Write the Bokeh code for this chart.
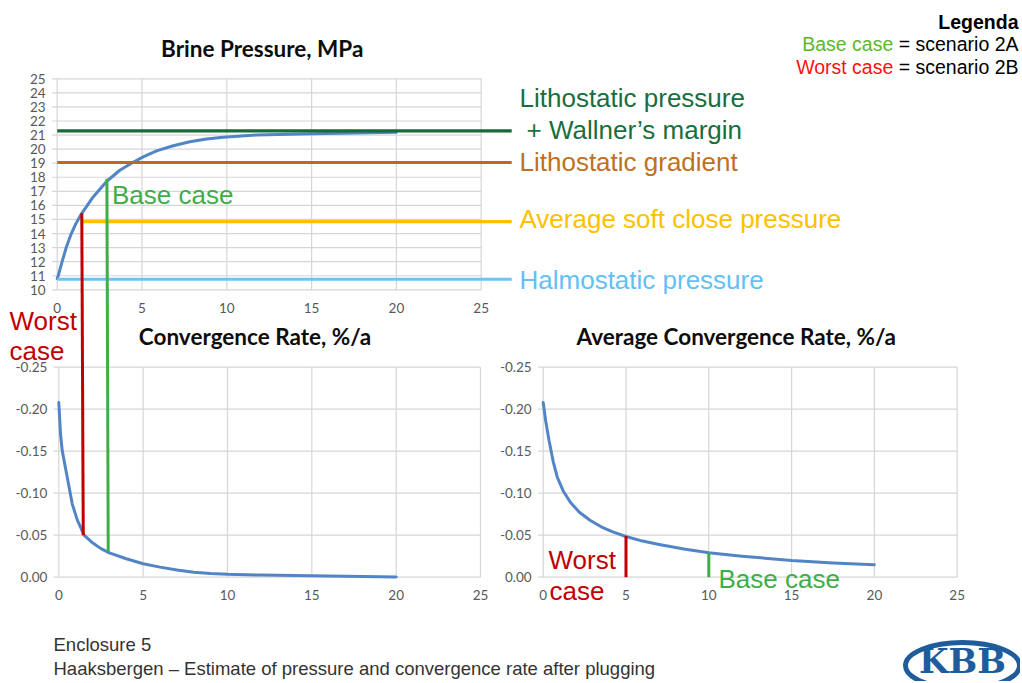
from bokeh.plotting import figure
from bokeh.models import Range1d
from bokeh.core.properties import value
from bokeh.embed import file_html
from bokeh.resources import INLINE

# ---------------- data ----------------
pressure_years = [0, 0.06, 0.29, 0.53, 0.8, 1.1, 1.43, 2.12, 2.91, 3.69, 4.48, 5.07, 5.86,
                  6.84, 7.82, 8.8, 9.79, 11.75, 15, 17.5, 20]
pressure_mpa = [10.8, 11.0, 12.0, 13.0, 13.9, 14.7, 15.4, 16.6, 17.7, 18.5, 19.07, 19.45,
                19.88, 20.24, 20.52, 20.72, 20.85, 21.0, 21.09, 21.15, 21.2]

rate_years = [0, 0.1, 0.2, 0.5, 0.8, 1.1, 1.5, 2, 2.5, 3, 4, 5, 6, 7, 8, 9, 10, 12, 14, 16, 18, 20]
rate_pct = [-0.208, -0.171, -0.151, -0.119, -0.087, -0.068, -0.05, -0.041, -0.034, -0.029,
            -0.022, -0.016, -0.012, -0.0085, -0.006, -0.0045, -0.0035, -0.0025, -0.002,
            -0.0015, -0.0008, -0.0003]

avg_years = [0, 0.15, 0.35, 0.6, 0.85, 1.2, 1.65, 2.2, 2.85, 3.5, 4.2, 5, 6, 7, 8.5, 10, 12,
             15, 17.5, 20]
avg_rate_pct = [-0.208, -0.186, -0.163, -0.138, -0.119, -0.103, -0.089, -0.077, -0.0675,
                -0.060, -0.054, -0.0485, -0.043, -0.039, -0.0335, -0.029, -0.025, -0.020,
                -0.017, -0.0148]

ref_levels = [21.3, 19.05, 14.85, 10.75]
ref_label_lines = [["Lithostatic pressure", "+ Wallner\u2019s margin"],
                   ["Lithostatic gradient"],
                   ["Average soft close pressure"],
                   ["Halmostatic pressure"]]
ref_line_end = 26.8

worst_year, base_year = 1.45, 2.93
worst_pressure, base_pressure = 15.45, 17.9
worst_rate, base_rate = -0.05, -0.03
worst_avg_year, base_avg_year = 5, 10
worst_avg_rate, base_avg_rate = -0.049, -0.029

pressure_ticks = list(range(10, 26))
year_ticks = [0, 5, 10, 15, 20, 25]
rate_ticks = [0.0, -0.05, -0.10, -0.15, -0.20, -0.25]
rate_tick_labels = ["0.00", "-0.05", "-0.10", "-0.15", "-0.20", "-0.25"]

# ---------------- layout (screen pixels of the 1022x683 page) ----------------
W, H = 1020, 681
PX0, PY0 = 0, 0
# (data0, data1, pixel0, pixel1) for each panel
BOX = {
    "top": ((0, 25, 56.7, 480.7), (10, 25, 289.3, 78.3)),
    "mid": ((0, 25, 58.3, 480.0), (0, -0.25, 576.7, 366.7)),
    "avg": ((0, 25, 542.7, 956.7), (0, -0.25, 576.7, 366.7)),
}


def inv(m):
    d0, d1, p0, p1 = m
    return lambda px: d0 + (px - p0) * (d1 - d0) / (p1 - p0)


def fwd(m):
    d0, d1, p0, p1 = m
    return lambda d: p0 + (d - d0) * (p1 - p0) / (d1 - d0)


p = figure(width=W, height=H, x_range=Range1d(PX0, PX0 + W), y_range=Range1d(PY0 + H, PY0),
           x_axis_type=None, y_axis_type=None, toolbar_location=None, output_backend="svg",
           min_border=0, min_border_left=0, min_border_right=0, min_border_top=0,
           min_border_bottom=0, title=None)
p.outline_line_color = None
p.background_fill_color = "white"
p.border_fill_color = "white"

for name, (xm, ym) in BOX.items():
    fx, fy = inv(xm), inv(ym)
    p.extra_x_ranges[name] = Range1d(fx(PX0), fx(PX0 + W))
    p.extra_y_ranges[name] = Range1d(fy(PY0 + H), fy(PY0))

GRID = "#d6d6d6"
TICK = "#595959"
CURVE = "#5285c6"
RED = "#c00000"
GREEN = "#3fae49"
SANS = value("Liberation Sans")
CAL = value("Lato")
ANN = "26px"


def txt(xs, ys, labels, color, size=ANN, font=SANS, align="left", style="normal", **kw):
    p.text(x=xs, y=ys, text=labels, text_font=font, text_font_size=size,
           text_color=color, text_align=align, text_baseline="middle",
           text_font_style=style, **kw)


def panel(name, yticks, ylabels, ymin, ymax):
    rn = dict(x_range_name=name, y_range_name=name)
    tick_len = 5 / ((BOX[name][0][3] - BOX[name][0][2]) / 25.0)
    p.segment(x0=[-tick_len] * len(yticks), y0=yticks, x1=[25] * len(yticks), y1=yticks,
              line_color=GRID, line_width=1.2, **rn)
    p.segment(x0=year_ticks, y0=[ymin] * len(year_ticks), x1=year_ticks,
              y1=[ymax] * len(year_ticks), line_color=GRID, line_width=1.2, **rn)
    txt([0] * len(yticks), yticks, ylabels, TICK, size="13.5px", font=CAL, align="right",
        x_offset=-11.5, **rn)
    txt(year_ticks, [ymin] * len(year_ticks), [str(t) for t in year_ticks], TICK,
        size="13.5px", font=CAL, align="center", y_offset=18, **rn)


panel("top", pressure_ticks, [str(t) for t in pressure_ticks], 10, 25)
panel("mid", rate_ticks, rate_tick_labels, 0, -0.25)
panel("avg", rate_ticks, rate_tick_labels, 0, -0.25)

# ---- curves ----
for xs, ys, nm in [(pressure_years, pressure_mpa, "top"), (rate_years, rate_pct, "mid"),
                   (avg_years, avg_rate_pct, "avg")]:
    p.line(xs, ys, line_color=CURVE, line_width=3, line_join="round", line_cap="round",
           x_range_name=nm, y_range_name=nm)

# ---- reference pressure levels ----
ref_colors = ["#176b37", "#c2681a", "#ffc000", "#6cc4f4"]
ref_text_colors = ["#1a6e3c", "#c0701e", "#ffc000", "#62c0f4"]
ref_starts = [0, 0, worst_year, 0]
p.segment(x0=ref_starts, y0=ref_levels, x1=[ref_line_end] * 4, y1=ref_levels,
          line_color=ref_colors, line_width=3.2, x_range_name="top", y_range_name="top")

ref_text_x = [[519, 526], [519], [519], [519]]
ref_text_y = [[97.5, 129.5], [161.7], [218], [279]]
for lines, xs, ys, col in zip(ref_label_lines, ref_text_x, ref_text_y, ref_text_colors):
    txt(xs, ys, lines, col)

# ---- worst / base case verticals spanning top and middle panel ----
tx, ty = inv(BOX["top"][0]), inv(BOX["top"][1])
mx, my = fwd(BOX["mid"][0]), fwd(BOX["mid"][1])
vx0 = [worst_year, base_year]
vy0 = [worst_pressure, base_pressure]
vx1 = [tx(mx(worst_year)), tx(mx(base_year))]
vy1 = [ty(my(worst_rate)), ty(my(base_rate))]
p.segment(x0=vx0, y0=vy0, x1=vx1, y1=vy1, line_color=[RED, GREEN], line_width=3,
          x_range_name="top", y_range_name="top")

# ---- verticals in the average panel ----
p.segment(x0=[worst_avg_year, base_avg_year], y0=[0, 0],
          x1=[worst_avg_year, base_avg_year], y1=[worst_avg_rate, base_avg_rate],
          line_color=[RED, GREEN], line_width=3, x_range_name="avg", y_range_name="avg")

# ---- case labels ----
txt([111.5], [194], ["Base case"], GREEN)
txt([9], [320.5], ["Worst"], RED)
txt([9], [350.8], ["case"], RED)
txt([548], [559], ["Worst"], RED)
txt([549], [590], ["case"], RED)
txt([718], [578.3], ["Base case"], GREEN)

# ---- panel titles ----
txt([261.7, 254.5, 735.7], [47.8, 336.3, 335.5],
    ["Brine Pressure, MPa", "Convergence Rate, %/a", "Average Convergence Rate, %/a"],
    "#0d0d0d", size="22.5px", font=CAL, align="center", style="bold")

# ---- legend (top right) ----
LEG_R = 1018
LS = 19.5
txt([LEG_R], [21.7], ["Legenda"], "black", size=f"{LS}px", align="right", style="bold")
txt([LEG_R, LEG_R], [43.7, 66.3], ["= scenario 2A", "= scenario 2B"], "black",
    size=f"{LS}px", align="right")
w_a = (6.142 + 0.278) * LS
txt([LEG_R - w_a], [43.7], ["Base case"], "#5cb82a", size=f"{LS}px", align="right")
txt([LEG_R - w_a], [66.3], ["Worst case"], "#ff1010", size=f"{LS}px", align="right")

# ---- footer ----
txt([53, 53], [644, 668],
    ["Enclosure 5",
     "Haaksbergen \u2013 Estimate of pressure and convergence rate after plugging"],
    "#333333", size="18.5px")

# ---- KBB logo ----
p.ellipse(x=[962], y=[665], width=[114], height=[46], fill_color=None,
          line_color="#1f5c9c", line_width=5)
txt([962], [660], ["KBB"], "#1f5c9c", size="34px", font=value("DejaVu Serif"),
    align="center", style="bold")

open("out.html", "w").write(file_html(p, INLINE))
